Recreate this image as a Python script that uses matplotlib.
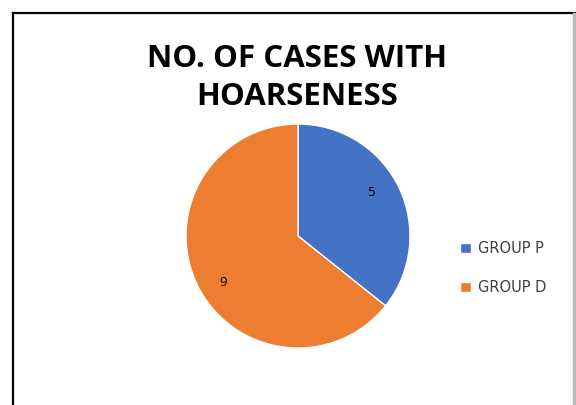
import numpy as np
import matplotlib.pyplot as plt
from matplotlib.lines import Line2D

# data
groups = ["GROUP P", "GROUP D"]
cases = [5, 9]
colors = ["#4472C4", "#ED7D31"]
title = "NO. OF CASES WITH\nHOARSENESS"

W, H = 576, 405
fig = plt.figure(figsize=(W / 100, H / 100), dpi=100)
fig.patch.set_facecolor("white")

# border of the chart box (only left / top / right visible in the crop)
fig.add_artist(Line2D([12.5 / W, 12.5 / W], [0, 1 - 12.5 / H], color="black", lw=1.6))
fig.add_artist(Line2D([12.5 / W, 1], [1 - 12.5 / H, 1 - 12.5 / H], color="black", lw=1.6))
fig.add_artist(Line2D([573.5 / W, 573.5 / W], [0, 1 - 14 / H], color="#bbbbbb", lw=2.5))

total = sum(cases)
ax = fig.add_axes([(298 - 112) / W, (405 - 348) / H, 224 / W, 224 / H])
wedges, texts, autotexts = ax.pie(
    cases, colors=colors, startangle=90, counterclock=False,
    autopct=lambda p: "%d" % round(p * total / 100), pctdistance=0.76,
    wedgeprops=dict(linewidth=1, edgecolor="white"),
    textprops=dict(fontsize=9.5, color="black", family="Open Sans"))
# label nudges to match the original placement
a = np.deg2rad(31)
autotexts[0].set_position((0.76 * np.cos(a), 0.76 * np.sin(a)))
a = np.deg2rad(212)
autotexts[1].set_position((0.79 * np.cos(a), 0.79 * np.sin(a)))
ax.set_xlim(-1, 1)
ax.set_ylim(-1, 1)
ax.set_aspect("equal")

fig.text(297 / W, 1 - 78 / H, title, ha="center", va="center",
         fontsize=22.5, fontweight="bold", family="Open Sans", linespacing=1.38)

fig.legend(wedges, groups, loc="center left", bbox_to_anchor=(447 / W, 1 - 268 / H),
           frameon=False, prop=dict(family="DejaVu Sans", size=10.5),
           labelcolor="#404040", handlelength=0.75, handleheight=0.75,
           handletextpad=0.45, labelspacing=1.65)

fig.savefig("out.png", dpi=100)
